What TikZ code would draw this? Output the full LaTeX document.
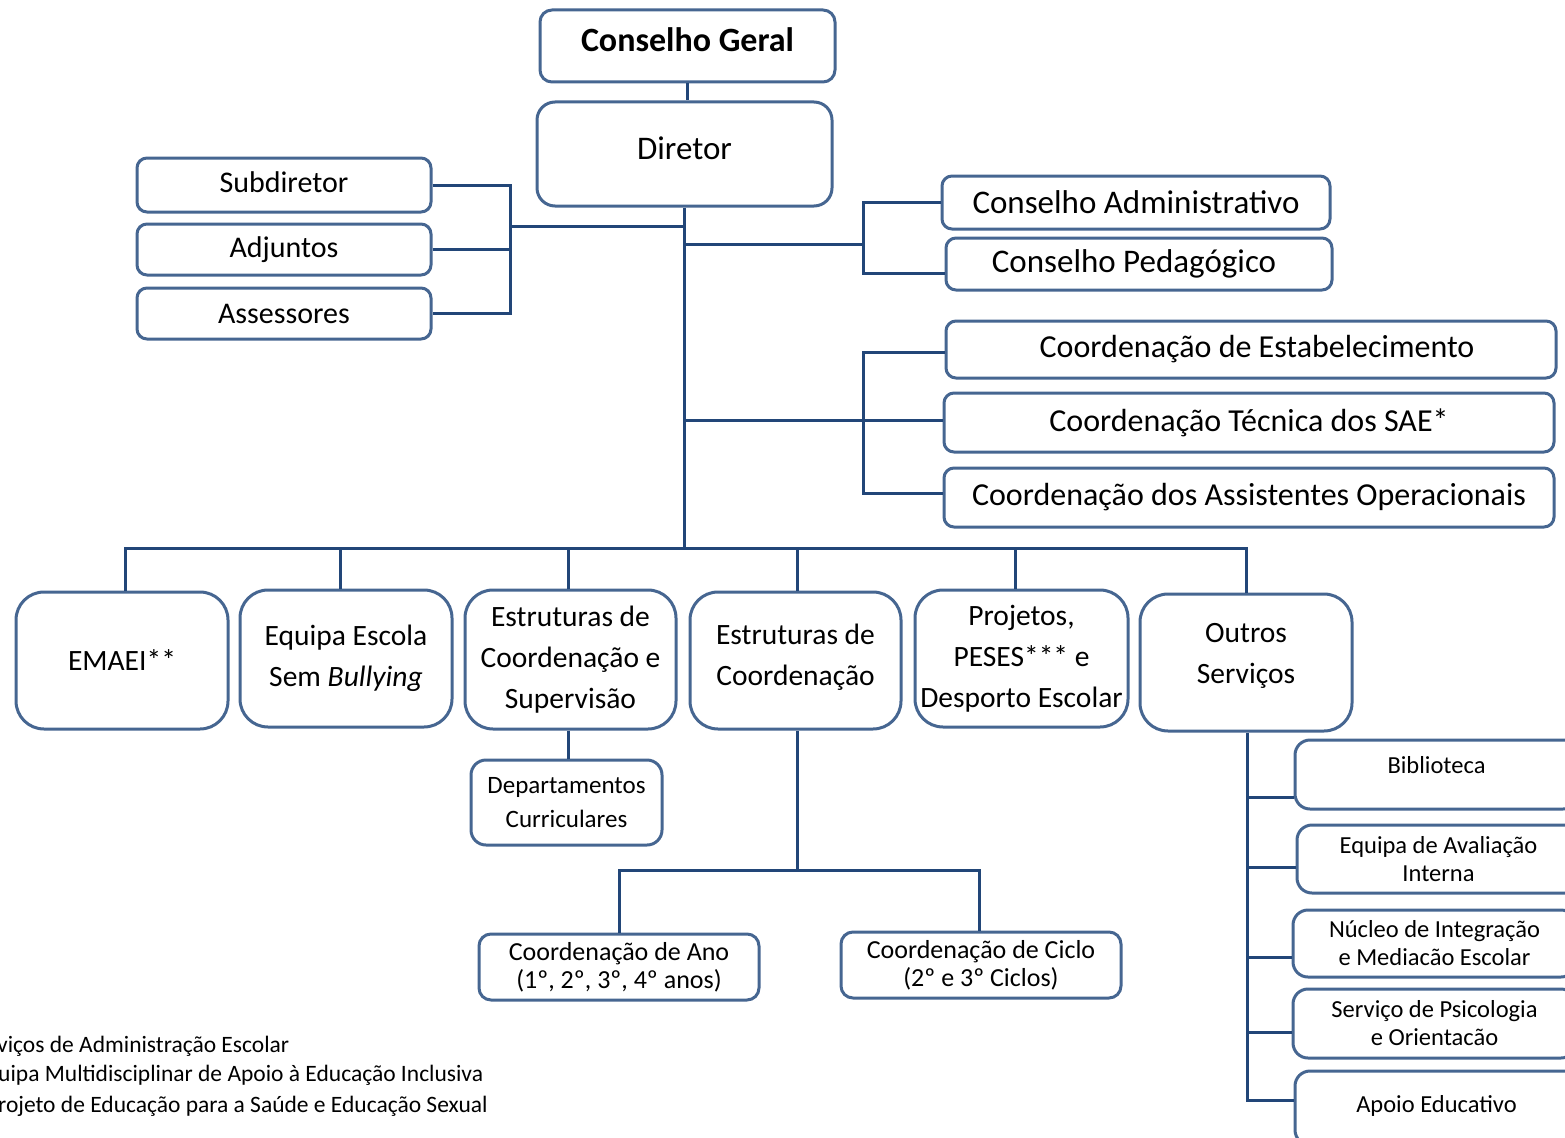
\documentclass[tikz,border=0pt]{standalone}
\usepackage{fontspec}
\setmainfont{Carlito}
\definecolor{boxc}{RGB}{70,102,145}
\definecolor{linec}{RGB}{34,70,120}
\begin{document}
\begin{tikzpicture}[x=1pt,y=-1pt,
  box/.style={draw=boxc, line width=3pt, fill=white, rounded corners=#1, align=center, inner sep=0pt},
  box/.default=10pt,
  conn/.style={draw=linec, line width=3pt},
  fTop/.style={font=\fontsize{33}{40}\selectfont},
  fLeft/.style={font=\fontsize{30}{36}\selectfont},
  fBig/.style={font=\fontsize{29.5}{41}\selectfont},
  fSmall/.style={font=\fontsize{24.5}{28}\selectfont},
  fMid/.style={font=\fontsize{26}{28}\selectfont},
  fLeg/.style={font=\fontsize{23.5}{28}\selectfont}]
\useasboundingbox (0,0) rectangle (1565,1137);
\clip (0,0) rectangle (1565,1137);
\coordinate (busY) at (0,548);
\coordinate (busB) at (0,870);
\coordinate (lbr) at (510,226);
\coordinate (rb1) at (863,244);
\coordinate (rb2) at (863,420);

% top
\node[box=12pt, minimum width=295pt, minimum height=72pt, font=\fontsize{34}{40}\selectfont\bfseries, text depth=12pt] (cg) at (687.5,46) {Conselho Geral};
\node[box=18pt, fTop, minimum width=295pt, minimum height=104pt, text depth=12pt] (dir) at (684.5,154) {Diretor};

% left group
\node[box, fLeft, minimum width=294pt, minimum height=54pt, text depth=6pt] (sub) at (284,185) {Subdiretor};
\node[box, fLeft, minimum width=294pt, minimum height=51pt] (adj) at (284,249.5) {Adjuntos};
\node[box, fLeft, minimum width=294pt, minimum height=51pt] (ass) at (284,313.5) {Assessores};

% right groups
\node[box, fTop, minimum width=388pt, minimum height=53pt] (cadm) at (1136,202.5) {Conselho Administrativo};
\node[box, fTop, minimum width=386pt, minimum height=52pt] (cped) at (1139,264) {\hspace*{-10pt}Conselho Pedagógico};
\node[box, font=\fontsize{32}{38}\selectfont, minimum width=610pt, minimum height=57pt] (ce) at (1251,349.5) {\hspace*{12pt}Coordenação de Estabelecimento};
\node[box, font=\fontsize{32}{38}\selectfont, minimum width=610pt, minimum height=59pt] (ct) at (1249,422.5) {Coordenação Técnica dos SAE*};
\node[box, font=\fontsize{32}{38}\selectfont, minimum width=610pt, minimum height=59pt] (ca) at (1249,497.5) {Coordenação dos Assistentes Operacionais};

% bottom row
\node[box=28pt, fBig, minimum width=212pt, minimum height=137pt] (emaei) at (122,660.5) {EMAEI**};
\node[box=28pt, fBig, minimum width=212pt, minimum height=137pt] (equipa) at (346,658.5) {Equipa Escola\\Sem \textit{Bullying}};
\node[box=28pt, fBig, minimum width=211pt, minimum height=139pt] (ecs) at (570.5,659.5) {Estruturas de\\Coordenação e\\Supervisão};
\node[box=28pt, fBig, minimum width=211pt, minimum height=137pt, text depth=12pt] (ec) at (795.5,660.5) {Estruturas de\\Coordenação};
\node[box=28pt, fBig, minimum width=213pt, minimum height=137pt] (proj) at (1021.5,658.5) {Projetos,\\PESES*** e\\Desporto Escolar};
\node[box=28pt, fBig, minimum width=212pt, minimum height=137pt, text depth=19pt] (outros) at (1246,662.5) {Outros\\Serviços};

% under
\node[box=15pt, font=\fontsize{25}{34}\selectfont, minimum width=191pt, minimum height=85pt] (dep) at (566.5,802.5) {Departamentos\\Curriculares};
\node[box=12pt, fMid, minimum width=280pt, minimum height=66pt] (cano) at (619,967) {Coordenação de Ano\\(1º, 2º, 3º, 4º anos)};
\node[box=12pt, fMid, minimum width=280pt, minimum height=66pt] (cciclo) at (981,965) {Coordenação de Ciclo\\(2º e 3º Ciclos)};

% services
\node[box=15pt, fSmall, minimum width=283pt, minimum height=69pt, text depth=20pt] (bib) at (1436.5,774.5) {Biblioteca};
\node[box=15pt, fSmall, minimum width=283pt, minimum height=68pt] (eav) at (1438.5,859) {Equipa de Avaliação\\Interna};
\node[box=15pt, fSmall, minimum width=283pt, minimum height=67pt] (nuc) at (1434.5,943.5) {Núcleo de Integração\\e Mediacão Escolar};
\node[box=15pt, fSmall, minimum width=283pt, minimum height=69pt] (psi) at (1434.5,1023.5) {Serviço de Psicologia\\e Orientacão};
\node[box=15pt, fSmall, minimum width=283pt, minimum height=74pt, text depth=8pt] (apo) at (1436.5,1108) {Apoio Educativo};

% legend
\node[fLeg, anchor=west, inner sep=0pt] (leg1) at (-3,1046) {viços de Administração Escolar};
\node[fLeg, anchor=west, inner sep=0pt] (leg2) at (-2,1075) {uipa Multidisciplinar de Apoio à Educação Inclusiva};
\node[fLeg, anchor=west, inner sep=0pt] (leg3) at (-2,1106) {rojeto de Educação para a Saúde e Educação Sexual};

% entry points
\coordinate (cpedIn) at ([yshift=-9pt]cped.west);
\coordinate (ceIn) at ([yshift=-3pt]ce.west);
\coordinate (caIn) at ([yshift=4pt]ca.west);
\coordinate (eqTop) at ([xshift=-6pt]equipa.north);
\coordinate (ecsTop) at ([xshift=-2pt]ecs.north);
\coordinate (ecTop) at ([xshift=2pt]ec.north);
\coordinate (projTop) at ([xshift=-6pt]proj.north);
\coordinate (emTop) at ([xshift=3pt]emaei.north);
\coordinate (ecsBot) at ([xshift=-2pt]ecs.south);
\coordinate (ecBot) at ([xshift=2pt]ec.south);
\coordinate (ccTop) at ([xshift=-2pt]cciclo.north);
\coordinate (oBot) at ([xshift=1pt]outros.south);
\coordinate (bibIn) at ([yshift=-22.5pt]bib.west);
\coordinate (eavIn) at ([yshift=-8pt]eav.west);
\coordinate (nucIn) at ([yshift=-13.5pt]nuc.west);
\coordinate (psiIn) at ([yshift=-8.5pt]psi.west);
\coordinate (apoIn) at ([yshift=8pt]apo.west);

% connectors
\draw[conn] (cg.south) -- (cg.south |- dir.north);
\draw[conn] (dir.south) -- (dir.south |- busY);
% left bracket
\draw[conn] (sub.east) -| (lbr |- ass.east) -- (ass.east);
\draw[conn] (adj.east) -- (adj.east -| lbr);
\draw[conn] (lbr) -- (lbr -| dir.south);
% right bracket 1
\draw[conn] (cadm.west) -| (rb1 |- cpedIn) -- (cpedIn);
\draw[conn] (rb1 -| dir.south) -- (rb1);
% right bracket 2
\draw[conn] (ceIn) -| (rb2 |- caIn) -- (caIn);
\draw[conn] (rb2 -| dir.south) -- (rb2 -| ct.west);
% bus
\draw[conn] (emTop) |- (outros.north |- busY) -- (outros.north);
\draw[conn] (eqTop) -- (eqTop |- busY);
\draw[conn] (ecsTop) -- (ecsTop |- busY);
\draw[conn] (ecTop) -- (ecTop |- busY);
\draw[conn] (projTop) -- (projTop |- busY);
% sub-structures
\draw[conn] (ecsBot) -- (ecsBot |- dep.north);
\draw[conn] (ecBot) -- (ecBot |- busB);
\draw[conn] (cano.north) |- (ccTop |- busB) -- (ccTop);
% services
\draw[conn] (oBot) |- (apoIn);
\draw[conn] (bibIn) -| (oBot);
\draw[conn] (eavIn) -| (oBot);
\draw[conn] (nucIn) -| (oBot);
\draw[conn] (psiIn) -| (oBot);
\end{tikzpicture}
\end{document}
